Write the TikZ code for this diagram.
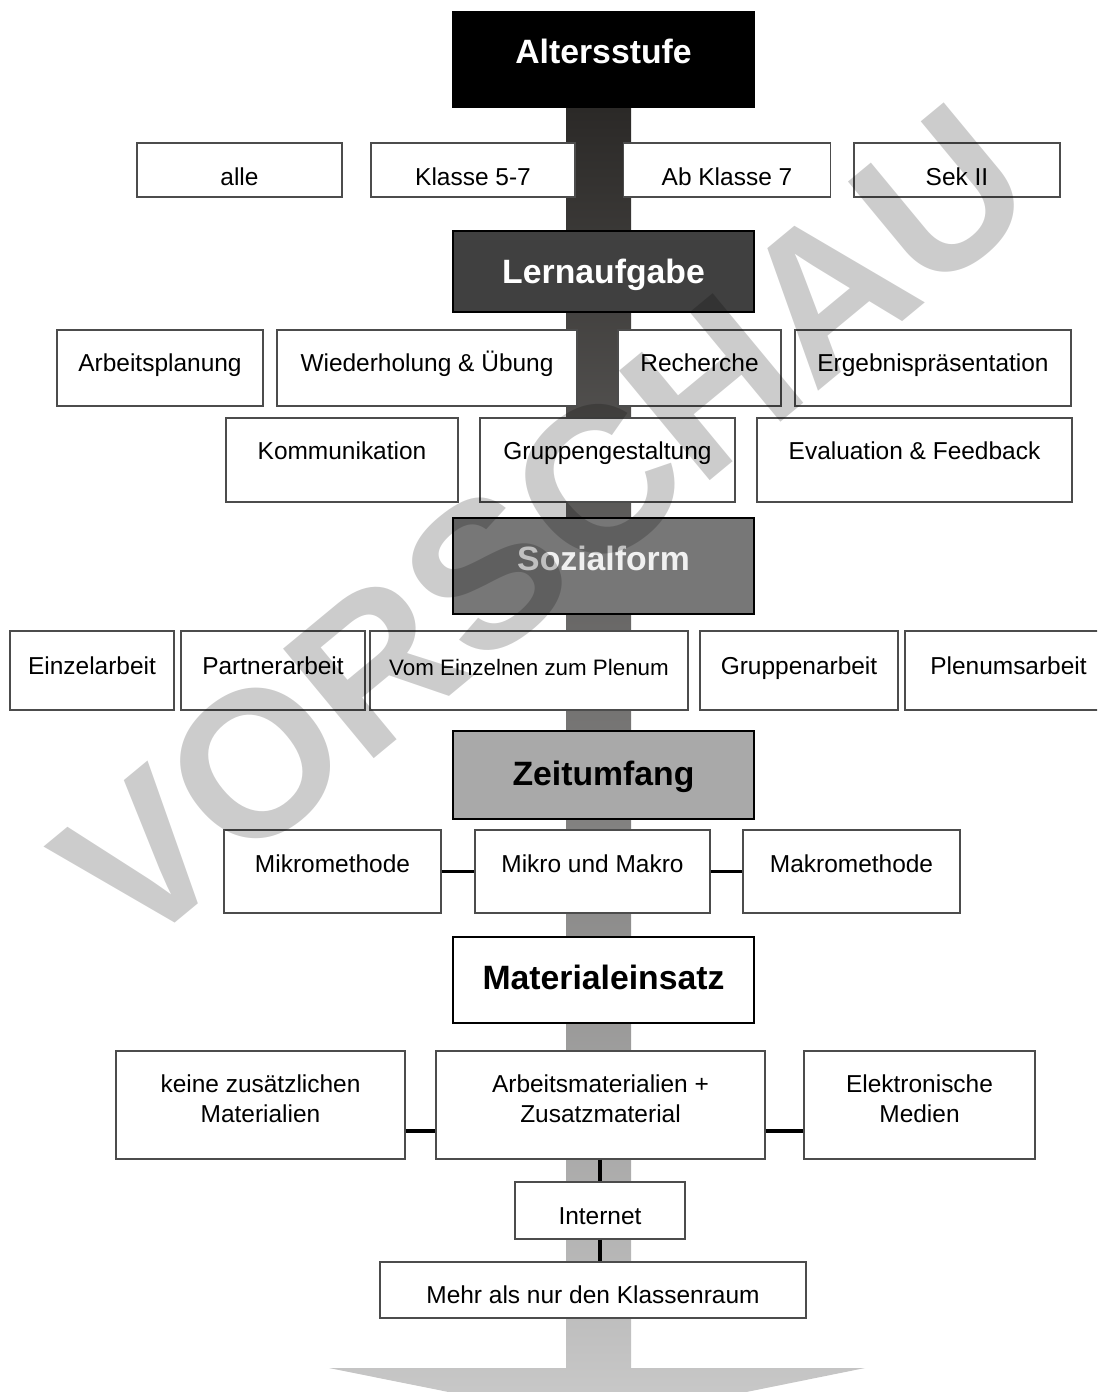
\documentclass[tikz,border=0pt]{standalone}
\usepackage{fontspec}
\setmainfont{Liberation Sans}
\usepackage{tikz}
\usetikzlibrary{positioning,calc}
\newdimen\unitpx \unitpx=0.025cm
\definecolor{bartop}{HTML}{2A2826}
\definecolor{barbot}{HTML}{CBCBCB}
\definecolor{lernfill}{HTML}{404040}
\definecolor{sozfill}{HTML}{777777}
\definecolor{zeitfill}{HTML}{A9A9A9}

\begin{document}
\begin{tikzpicture}[
  x=0.025cm, y=-0.025cm,
  head/.style={rectangle, draw=black, line width=2.1pt, inner sep=0pt,
               text height=17.2pt, text depth=0pt,
               font=\fontsize{24}{28}\selectfont\bfseries},
  item/.style={rectangle, draw=black!70, fill=white, line width=0.9pt,
               inner sep=0pt, align=center, text height=12.5pt, text depth=0pt,
               font=\fontsize{17.4}{21.3}\selectfont},
  wh/.style 2 args={minimum width=#1\unitpx, minimum height=#2\unitpx},
  link/.style={line width=2.5pt},
  wmark/.style={rotate=39.6, text=black, text opacity=0.2, inner sep=0pt,
                font=\fontsize{147}{147}\selectfont\bfseries},
]
  \useasboundingbox (0,0) rectangle (1097,1392);
  \clip (0,0) rectangle (1097,1392);

  % Arrow behind everything
  \shade[top color=bartop, bottom color=barbot]
    (566,100) -- (631,100) -- (631,1368) -- (865,1368) -- (598,1422)
    -- (329,1368) -- (566,1368) -- cycle;

  % Altersstufe
  \node[head, wh={301}{95}, fill=black, text=white, text depth=11.3pt] (alter) at (603.5,59.5) {Altersstufe};
  \node[item, wh={205}{54}, text height=22.5pt] (alle) at (239.5,170) {alle};
  \node[item, wh={204}{54}, text height=22.5pt] (kl57) at (473,170) {Klasse 5-7};
  \node[item, wh={207}{54}, text height=22.5pt] (ab7) at (727,170) {Ab Klasse 7};
  \node[item, wh={206}{54}, text height=22.5pt] (sek2) at (957,170) {Sek II};

  % Lernaufgabe
  \node[head, wh={301}{81}, fill=lernfill, text=white] (lern) at (603.5,271.5) {Lernaufgabe};
  \node[item, wh={206}{76}, text depth=7pt] (planung) at (160,368) {Arbeitsplanung};
  \node[item, wh={300}{76}, text depth=7pt] (uebung) at (427,368) {Wiederholung \& Übung};
  \node[item, wh={163}{76}, text depth=7pt] (recherche) at (699.5,368) {Recherche};
  \node[item, wh={276}{76}, text depth=7pt] (praes) at (933,368) {Ergebnispräsentation};
  \node[item, wh={232}{84}, text depth=12.8pt] (komm) at (342,460) {Kommunikation};
  \node[item, wh={255}{84}, text depth=12.8pt] (gruppe) at (607.5,460) {Gruppengestaltung};
  \node[item, wh={315}{84}, text depth=12.8pt] (feedback) at (914.5,460) {Evaluation \& Feedback};

  % Sozialform
  \node[head, wh={301}{96}, fill=sozfill, text=white!94!black, text depth=11.3pt] (sozial) at (603.5,566) {Sozialform};
  \node[item, wh={164}{79}, text depth=7pt] (einzel) at (92,670.5) {Einzelarbeit};
  \node[item, wh={184}{79}, text depth=7pt] (partner) at (273,670.5) {Partnerarbeit};
  \node[item, wh={318}{79}, text depth=5pt, text height=11.4pt,
        font=\fontsize{15.9}{19}\selectfont] (vomeinzel) at (529,670.5) {Vom Einzelnen zum Plenum};
  \node[item, wh={198}{79}, text depth=7pt] (gruppenarb) at (799,670.5) {Gruppenarbeit};
  \node[item, wh={207}{79}, text depth=7pt] (plenum) at (1008.5,670.5) {Plenumsarbeit};

  % Zeitumfang
  \node[head, wh={301}{88}, fill=zeitfill, text depth=2.5pt] (zeit) at (603.5,775) {Zeitumfang};
  \node[item, wh={217}{83}, text depth=11.3pt] (mikro) at (332.5,871.5) {Mikromethode};
  \node[item, wh={235}{83}, text depth=11.3pt] (mima) at (592.5,871.5) {Mikro und Makro};
  \node[item, wh={217}{83}, text depth=11.3pt] (makro) at (851.5,871.5) {Makromethode};

  % Materialeinsatz
  \node[head, wh={301}{86}, fill=white, text depth=4.3pt] (material) at (603.5,980) {Materialeinsatz};
  \node[item, wh={289}{108}, text height=, text depth=8.5pt] (keine) at (260.5,1105) {keine zusätzlichen\\Materialien};
  \node[item, wh={329}{108}, text height=, text depth=8.5pt] (arbeit) at (600.5,1105) {Arbeitsmaterialien +\\Zusatzmaterial};
  \node[item, wh={231}{108}, text height=, text depth=8.5pt] (medien) at (919.5,1105) {Elektronische\\Medien};
  \node[item, wh={170}{57}, text height=19.5pt] (internet) at (600,1210.5) {Internet};
  \node[item, wh={426}{56}, text height=19.5pt] (mehr) at (593,1290) {Mehr als nur den Klassenraum};

  % Connectors
  \draw[link] (mikro) -- (mima);
  \draw[link] (mima) -- (makro);
  \draw[link] ([yshift=-26\unitpx]keine.east) -- ([yshift=-26\unitpx]arbeit.west);
  \draw[link] ([yshift=-26\unitpx]arbeit.east) -- ([yshift=-26\unitpx]medien.west);
  \draw[link] (arbeit.south -| internet) -- (internet);
  \draw[link] (internet.south) -- (internet.south |- mehr.north);

  % Watermark
  \node[wmark] (vorschau) at (544,526) {VORSCHAU};
\end{tikzpicture}
\end{document}
